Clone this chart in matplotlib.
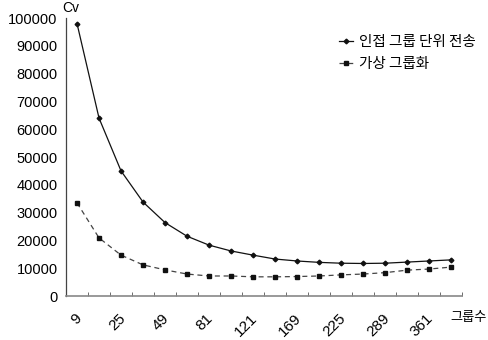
import matplotlib
matplotlib.use("Agg")
import matplotlib.pyplot as plt
import matplotlib.transforms as mtransforms
import numpy as np

categories = [9, 16, 25, 36, 49, 64, 81, 100, 121, 144, 169, 196, 225, 256, 289, 324, 361, 400]
tick_labels = ["9", "25", "49", "81", "121", "169", "225", "289", "361"]
adjacent = [98000, 64000, 45000, 33800, 26400, 21500, 18300, 16200, 14700, 13300,
            12600, 12100, 11800, 11700, 11800, 12200, 12600, 13000]
virtual = [33500, 20900, 14700, 11200, 9400, 7900, 7200, 7200, 6900, 6900,
           7000, 7200, 7600, 7900, 8400, 9300, 9700, 10400]
series_names = ["인접 그룹 단위 전송", "가상 그룹화"]

plt.rcParams['font.family'] = ['Liberation Sans', 'Noto Sans CJK KR', 'DejaVu Sans']

fig = plt.figure(figsize=(4.89, 3.40), dpi=100)
ax = fig.add_axes([0.135, 0.1294, 0.81, 0.8176])

x = np.arange(len(categories))
ax.plot(x, adjacent, color='#111111', lw=0.9, marker='D', ms=2.4, label=series_names[0])
ax.plot(x, virtual, color='#444444', lw=0.9, ls=(0, (4, 3)), marker='s', ms=2.6,
        mfc='#111111', mec='#111111', label=series_names[1])

ax.set_xlim(-0.5, len(categories) - 0.5)
ax.set_ylim(0, 100000)
ax.set_yticks(np.arange(0, 100001, 10000))
ax.set_yticklabels([str(v) for v in range(0, 100001, 10000)], fontsize=10.5)
ax.tick_params(axis='y', length=0, pad=6)

pos = [categories.index(int(t)) for t in tick_labels]
ax.set_xticks(pos)
ax.set_xticklabels(tick_labels, rotation=45, ha='right', va='top',
                   rotation_mode='anchor', fontsize=11)
ax.tick_params(axis='x', length=0, pad=11)
shift = mtransforms.ScaledTranslation(-3 / 100, 0, fig.dpi_scale_trans)
for lab in ax.get_xticklabels():
    lab.set_transform(lab.get_transform() + shift)
ax.set_xticks(np.arange(len(categories)) + 0.5, minor=True)
ax.tick_params(axis='x', which='minor', direction='in', length=3, color='#555555')

for s in ['top', 'right']:
    ax.spines[s].set_visible(False)
ax.spines['left'].set_color('#444444')
ax.spines['bottom'].set_color('#888888')
ax.spines['left'].set_linewidth(0.9)
ax.spines['bottom'].set_linewidth(1.2)

fig.text(0.128, 0.955, "Cv", fontsize=10, ha='left', va='bottom')
fig.text(0.995, 0.065, "그룹수", fontsize=9.5, ha='right', va='center',
         family=['Noto Sans CJK KR', 'DejaVu Sans'])

leg = ax.legend(loc='upper left', bbox_to_anchor=(0.655, 0.985), frameon=False,
                handlelength=1.0, handletextpad=0.4, labelspacing=0.55,
                prop={'family': ['Noto Sans CJK KR', 'DejaVu Sans'], 'size': 10.5})

fig.savefig("out.png", dpi=100)
